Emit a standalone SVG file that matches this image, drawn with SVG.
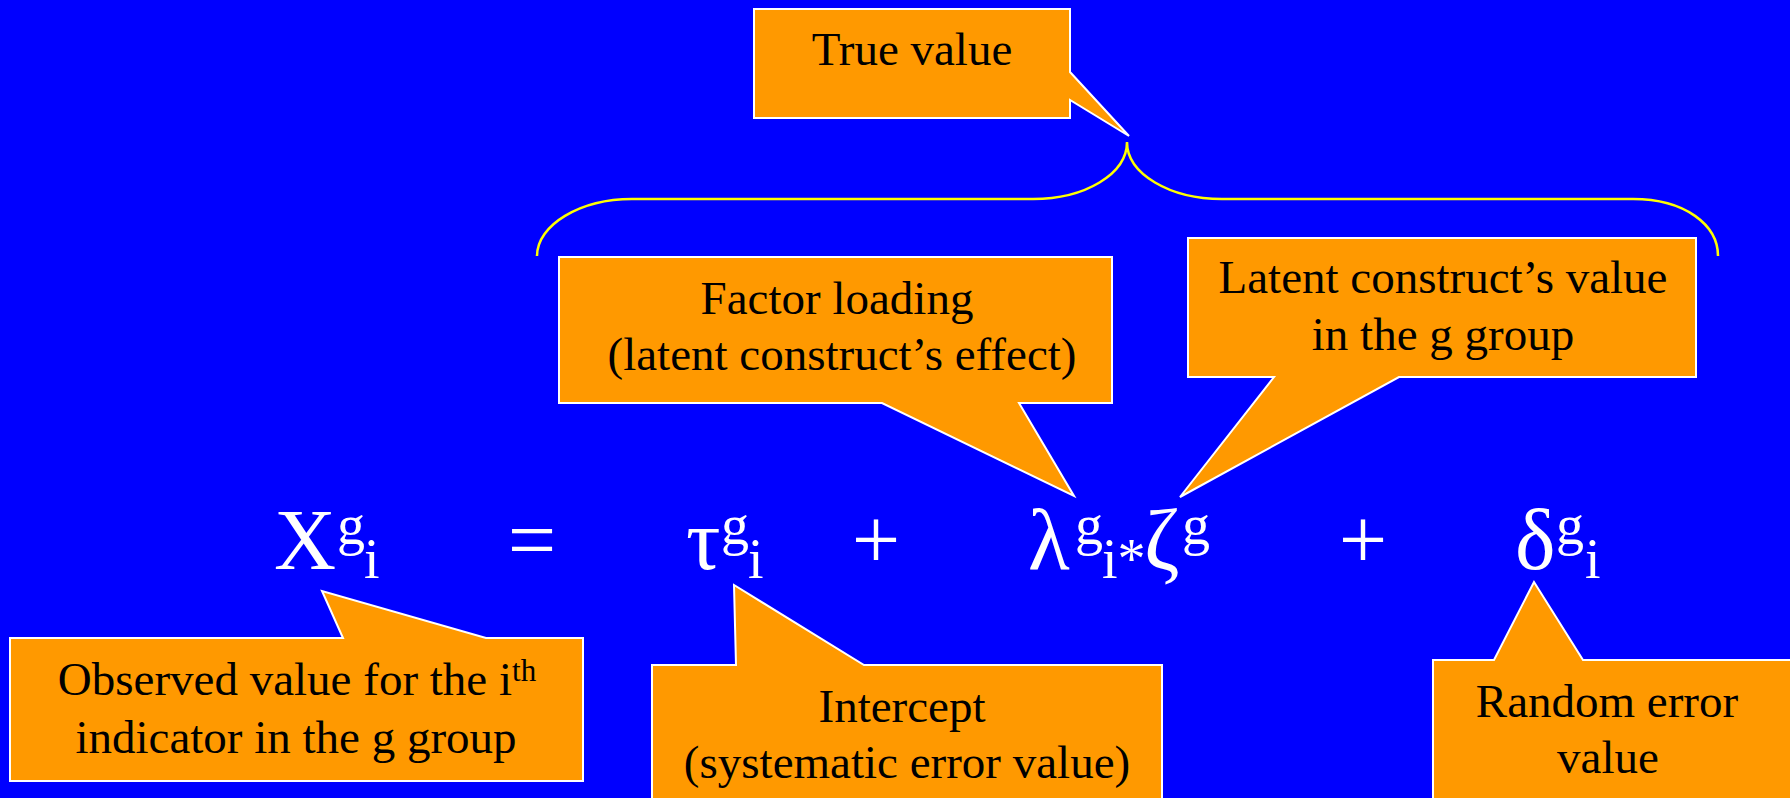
<svg xmlns="http://www.w3.org/2000/svg" width="1790" height="798" viewBox="0 0 1790 798">
  <style>
    .callout { fill: #FF9900; stroke: #FFFFFF; stroke-width: 2; stroke-linejoin: miter; }
    .lbl { font-family: "Liberation Serif", "Times New Roman", serif; font-size: 47px; fill: #000000; text-anchor: middle; }
    .eq { font-family: "Liberation Serif", "Times New Roman", serif; font-size: 86px; fill: #FFFFFF; }
    .eqs { font-family: "Liberation Serif", "Times New Roman", serif; font-size: 56px; fill: #FFFFFF; }
    .brace { fill: none; stroke: #FFFF00; stroke-width: 2.5; }
  </style>
  <rect x="0" y="0" width="1790" height="798" fill="#0000FF"/>

  <g id="connectors">
    <path class="brace" d="M537,256 C537,225 580,199 632,199 L1033,199 C1085,199 1127,174 1127,142 C1127,174 1170,199 1222,199 L1633,199 C1685,199 1718,225 1718,256"/>
  </g>

  <g id="true-value">
    <polygon class="callout" points="754,9 1070,9 1070,72 1129,136 1070,100 1070,118 754,118"/>
    <text class="lbl" x="912" y="65">True value</text>
  </g>

  <g id="factor-loading">
    <polygon class="callout" points="559,257 1112,257 1112,403 1019,403 1074,496 882,403 559,403"/>
    <text class="lbl" x="837" y="314">Factor loading</text>
    <text class="lbl" x="842" y="370">(latent construct’s effect)</text>
  </g>

  <g id="latent-value">
    <polygon class="callout" points="1188,238 1696,238 1696,377 1399,377 1180,497 1274,377 1188,377"/>
    <text class="lbl" x="1443" y="293">Latent construct’s value</text>
    <text class="lbl" x="1443" y="350">in the g group</text>
  </g>

  <g id="observed-value">
    <polygon class="callout" points="10,638 343,638 322,591 486,638 583,638 583,781 10,781"/>
    <text class="lbl" x="297" y="695">Observed value for the i<tspan font-size="31" dy="-14">th</tspan></text>
    <text class="lbl" x="296" y="753">indicator in the g group</text>
  </g>

  <g id="intercept">
    <polygon class="callout" points="652,665 736,665 734,585 864,665 1162,665 1162,805 652,805"/>
    <text class="lbl" x="902" y="722">Intercept</text>
    <text class="lbl" x="907" y="778">(systematic error value)</text>
  </g>

  <g id="random-error">
    <polygon class="callout" points="1433,660 1494,660 1534,582 1583,660 1800,660 1800,805 1433,805"/>
    <text class="lbl" x="1607" y="717">Random error</text>
    <text class="lbl" x="1608" y="773">value</text>
  </g>

  <g id="equation">
    <text class="eq" x="274" y="569">X</text>
    <text class="eqs" x="337" y="544">g</text>
    <text class="eqs" x="364" y="578">i</text>
    <text class="eq" x="532" y="569" text-anchor="middle">=</text>
    <text class="eq" x="686" y="569">τ</text>
    <text class="eqs" x="721" y="544">g</text>
    <text class="eqs" x="748" y="578">i</text>
    <text class="eq" x="876" y="569" text-anchor="middle">+</text>
    <text class="eq" x="1028" y="569">λ</text>
    <text class="eqs" x="1075" y="544">g</text>
    <text class="eqs" x="1102" y="578">i*</text>
    <text class="eq" x="1144" y="569">ζ</text>
    <text class="eqs" x="1182" y="544">g</text>
    <text class="eq" x="1363" y="569" text-anchor="middle">+</text>
    <text class="eq" x="1515" y="569">δ</text>
    <text class="eqs" x="1556" y="544">g</text>
    <text class="eqs" x="1585" y="578">i</text>
  </g>
</svg>
